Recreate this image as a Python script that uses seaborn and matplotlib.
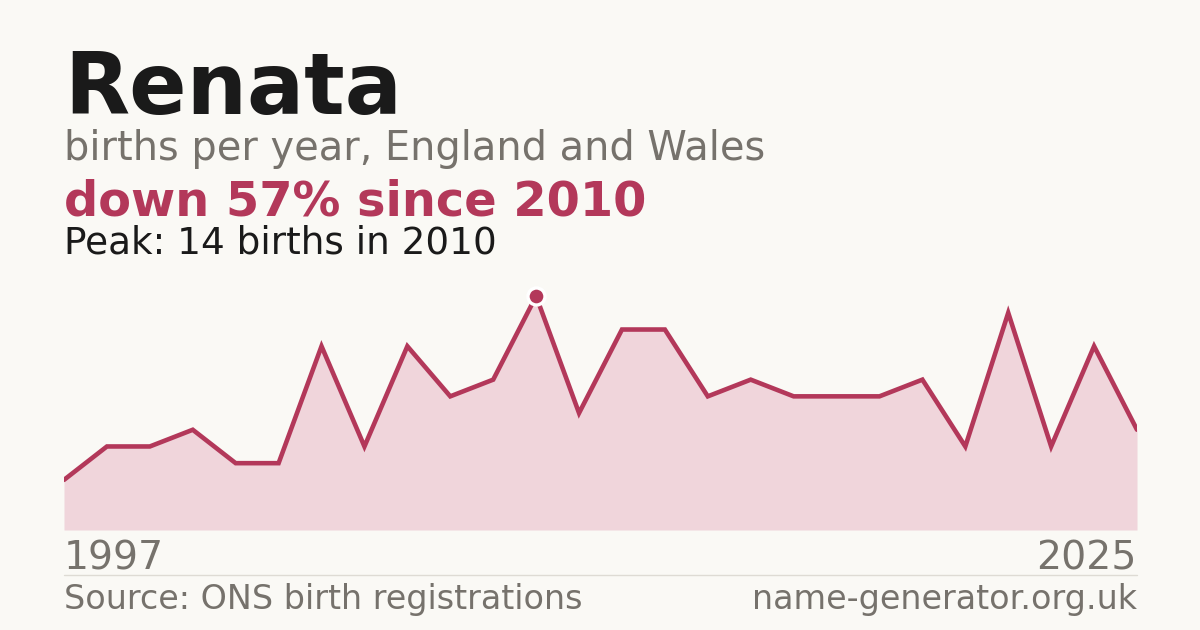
import numpy as np
import pandas as pd
import matplotlib
matplotlib.use('Agg')
import matplotlib.pyplot as plt
import seaborn as sns

# data (26 published years, 1997-2025)
years  = [1997, 1998, 2000, 2001, 2002, 2004, 2005, 2006, 2007, 2008, 2009, 2010, 2011,
          2012, 2013, 2014, 2015, 2016, 2017, 2018, 2020, 2021, 2022, 2023, 2024, 2025]
births = [3, 5, 5, 6, 4, 4, 11, 5, 11, 8, 9, 14, 7,
          12, 12, 8, 9, 8, 8, 8, 9, 5, 13, 5, 11, 6]

NAME     = 'Renata'
SUBTITLE = 'births per year, England and Wales'
SOURCE   = 'Source: ONS birth registrations'
SITE     = 'name-generator.org.uk'

BG    = '#faf9f5'
RED   = '#b3385a'
FILL  = '#f0d5db'
GREY  = '#76726c'
INK   = '#1a1a1a'

sns.set_theme(style='white')
plt.rcParams['font.family'] = ['DejaVu Sans']

df = pd.DataFrame({'year': years, 'births': births})
df['pos'] = np.arange(len(df))

peak_i   = int(df['births'].idxmax())
peak_val = int(df.loc[peak_i, 'births'])
peak_yr  = int(df.loc[peak_i, 'year'])
change   = round((df['births'].iloc[-1] - peak_val) / peak_val * 100)

fig = plt.figure(figsize=(12, 6.3), dpi=100, facecolor=BG)
ax = fig.add_axes([64/1200, 1-530/630, (1137-64)/1200, 250.6/630])
ax.set_facecolor(BG)

ax.fill_between(df['pos'], 0, df['births'], color=FILL, linewidth=0, zorder=1)
sns.lineplot(data=df, x='pos', y='births', ax=ax, color=RED, linewidth=3.3,
             solid_joinstyle='miter', zorder=2)
ax.scatter([df.loc[peak_i, 'pos']], [peak_val], s=150, color=RED,
           edgecolor='white', linewidth=2.4, zorder=3, clip_on=False)

ax.set_xlim(0, len(df)-1)
ax.set_ylim(0, 15)
ax.axis('off')

# header
fig.text(64/1200, 1-114/630, NAME, fontsize=61, fontweight='bold', color=INK, va='baseline')
fig.text(64/1200, 1-160/630, SUBTITLE, fontsize=28.75, color=GREY, va='baseline')
fig.text(64/1200, 1-215/630, f'down {abs(change)}% since {peak_yr}', fontsize=34.5,
         fontweight='bold', color=RED, va='baseline')
fig.text(64/1200, 1-253/630, f'Peak: {peak_val} births in {peak_yr}', fontsize=26.9,
         color=INK, va='baseline')

# year labels
fig.text(64/1200, 1-570/630, str(years[0]), fontsize=28.4, color=GREY, va='baseline')
fig.text(1137/1200, 1-570/630, str(years[-1]), fontsize=28.4, color=GREY, va='baseline', ha='right')

# divider + footer
fig.add_artist(plt.Line2D([64/1200, 1137/1200], [1-574.5/630]*2, color='#dedbd4', linewidth=1))
fig.text(64/1200, 1-609/630, SOURCE, fontsize=24, color=GREY, va='baseline')
fig.text(1137/1200, 1-609/630, SITE, fontsize=24, color=GREY, va='baseline', ha='right')

fig.savefig('out.png', dpi=100, facecolor=BG)
